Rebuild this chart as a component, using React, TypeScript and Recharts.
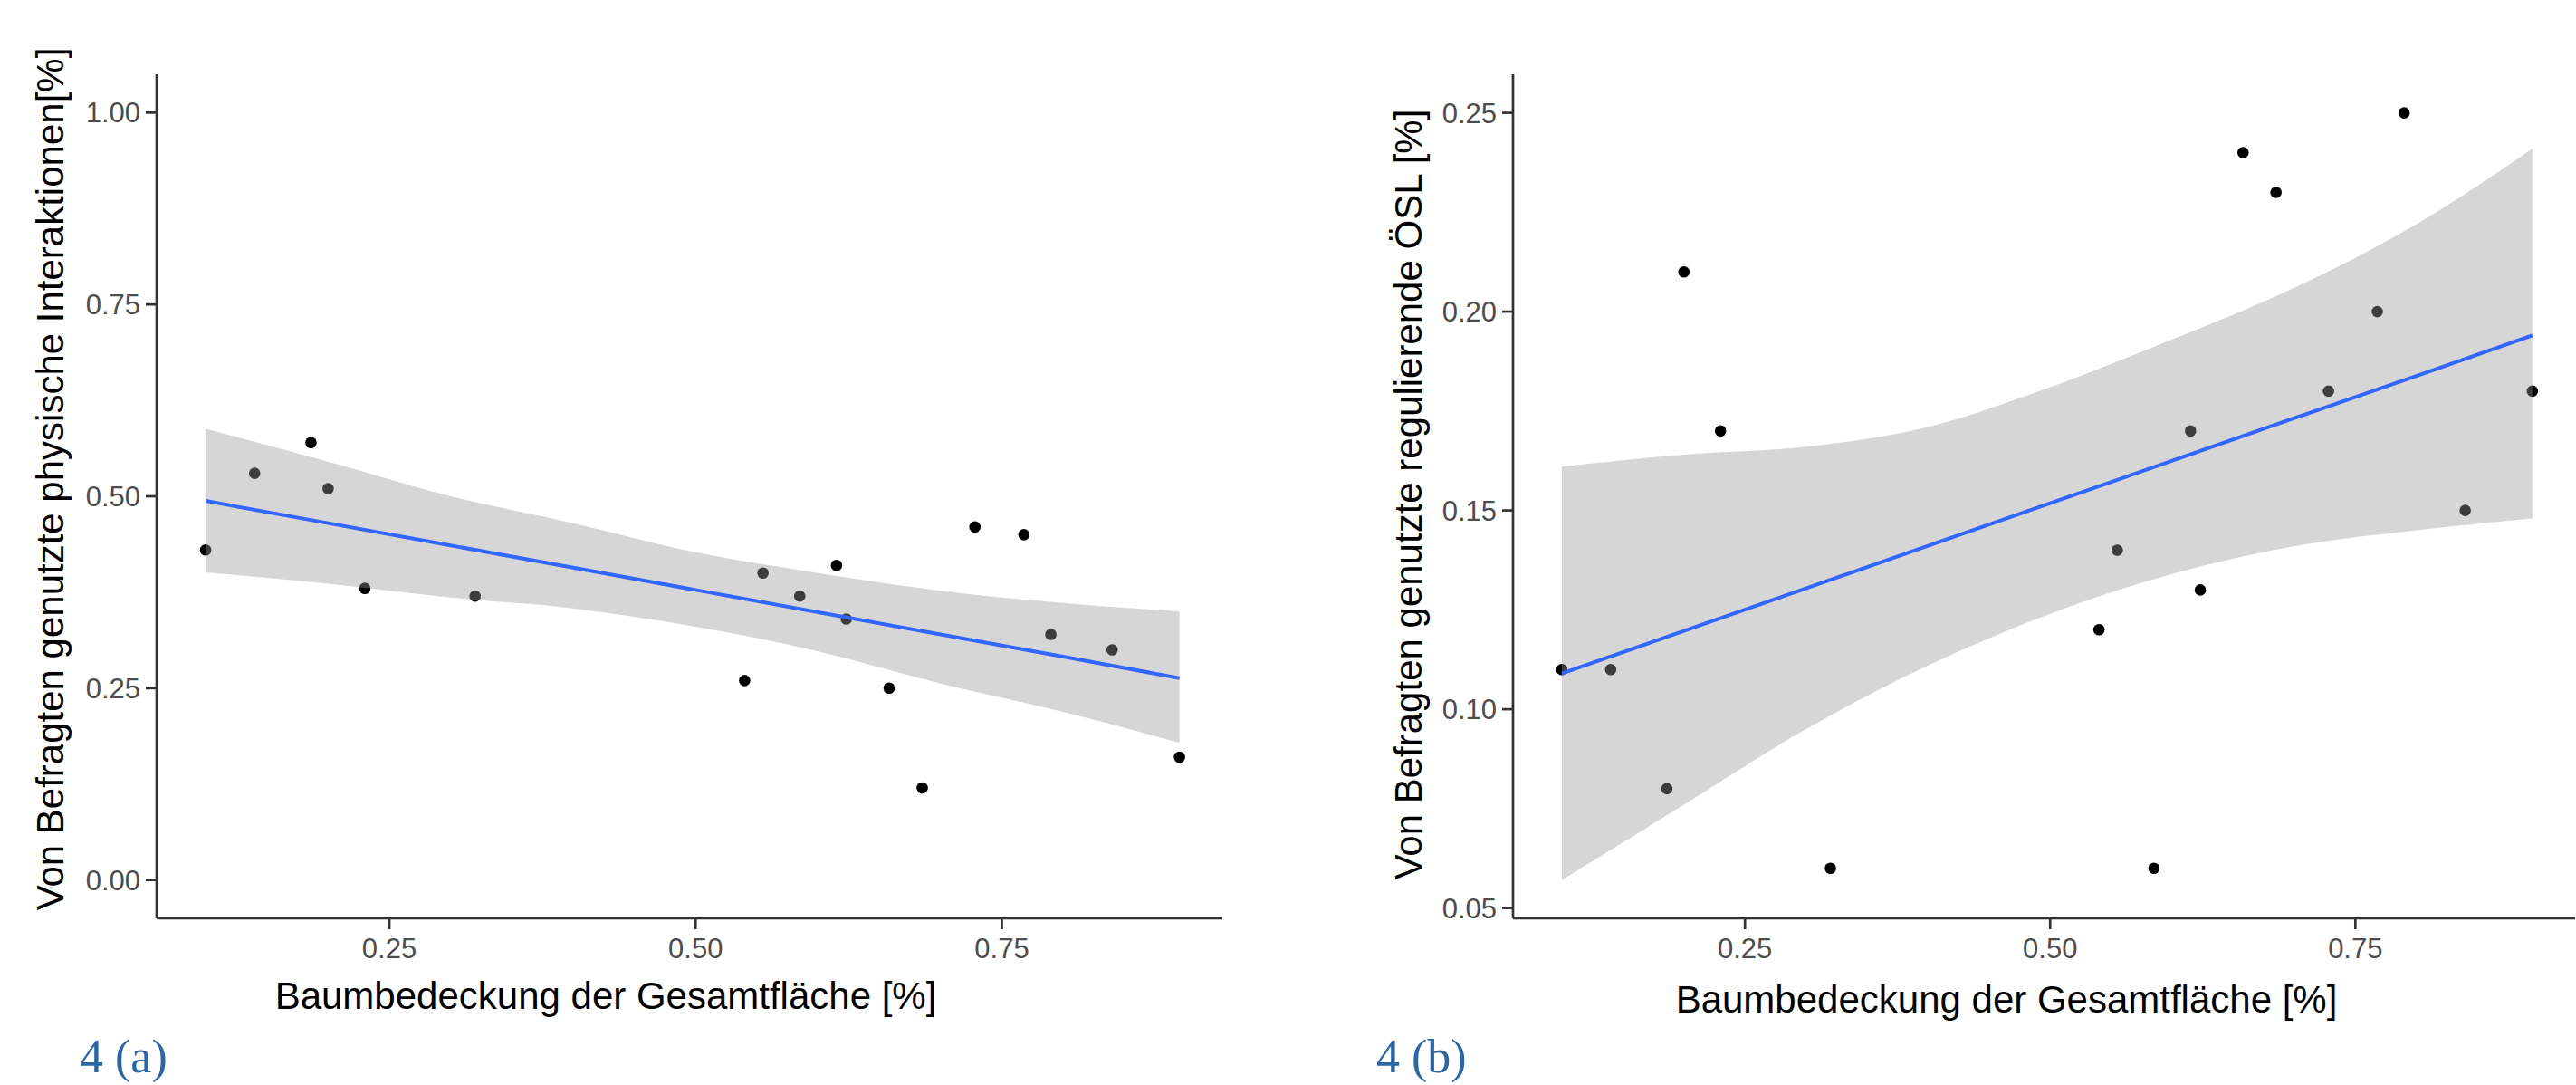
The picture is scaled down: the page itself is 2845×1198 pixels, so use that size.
import React from 'react';
import { ComposedChart, XAxis, YAxis, Scatter, Area, Line } from 'recharts';

// tree cover share per site (shared by both panels)
const coverX = [0.10, 0.14, 0.186, 0.20, 0.23, 0.32, 0.54, 0.555, 0.585, 0.615, 0.623, 0.658, 0.685, 0.728, 0.768, 0.79, 0.84, 0.895];
// panel (a): physical interactions used by respondents
const physUse = [0.43, 0.53, 0.57, 0.51, 0.38, 0.37, 0.26, 0.40, 0.37, 0.41, 0.34, 0.25, 0.12, 0.46, 0.45, 0.32, 0.30, 0.16];
// panel (b): regulating ecosystem services used by respondents
const regUse = [0.11, 0.11, 0.08, 0.21, 0.17, 0.06, 0.12, 0.14, 0.06, 0.17, 0.13, 0.24, 0.23, 0.18, 0.20, 0.25, 0.15, 0.18];

// lm smooth + confidence band
const smoothX = [0.10, 0.20, 0.30, 0.40, 0.50, 0.60, 0.70, 0.80, 0.895];
const physFit = [0.494, 0.465, 0.436, 0.407, 0.378, 0.349, 0.320, 0.291, 0.263];
const physLo = [0.401, 0.386, 0.368, 0.354, 0.330, 0.298, 0.256, 0.219, 0.179];
const physHi = [0.588, 0.545, 0.500, 0.465, 0.427, 0.400, 0.377, 0.361, 0.350];
const regFit = [0.109, 0.1197, 0.1304, 0.1411, 0.1518, 0.1625, 0.1732, 0.1838, 0.194];
const regLo = [0.057, 0.076, 0.095, 0.111, 0.124, 0.134, 0.141, 0.145, 0.148];
const regHi = [0.161, 0.164, 0.166, 0.171, 0.181, 0.193, 0.206, 0.222, 0.241];

const xTicks = [0.25, 0.5, 0.75];
const physTicks = [0, 0.25, 0.5, 0.75, 1.0];
const regTicks = [0.05, 0.10, 0.15, 0.20, 0.25];

const xTitle = 'Baumbedeckung der Gesamtfläche [%]';
const physTitle = 'Von Befragten genutzte physische Interaktionen[%]';
const regTitle = 'Von Befragten genutzte regulierende ÖSL [%]';

const SANS = '"Liberation Sans", Arial, sans-serif';
const axisStroke = { stroke: '#333333', strokeWidth: 2.7 };
const tickStyle = { fill: '#4d4d4d', fontSize: 31, fontFamily: SANS };

const Dot = (p: any) => <circle cx={p.cx} cy={p.cy} r={6.3} fill="#000" />;

function Panel({ ys, fit, lo, hi, yTicks, yDomain, width, yAxisWidth, rightMargin }: any) {
    const points = coverX.map((x, i) => ({ x, y: ys[i] }));
    const smooth = smoothX.map((x, i) => ({ x, band: [lo[i], hi[i]], fit: fit[i] }));
    return (
        <ComposedChart width={width} height={1100} data={smooth}
            margin={{ top: 82, right: rightMargin, left: 0, bottom: 0 }}>
            <XAxis type="number" dataKey="x" domain={[0.06, 0.93]} allowDataOverflow
                ticks={xTicks} tickFormatter={(v: number) => v.toFixed(2)}
                height={86} tickSize={12} tickMargin={10}
                axisLine={axisStroke} tickLine={axisStroke} tick={tickStyle} />
            <YAxis type="number" domain={yDomain} allowDataOverflow
                ticks={yTicks} tickFormatter={(v: number) => v.toFixed(2)}
                width={yAxisWidth} tickSize={12} tickMargin={6}
                axisLine={axisStroke} tickLine={axisStroke} tick={tickStyle} />
            {/* points sit under the translucent band, as in ggplot */}
            <Scatter data={points} dataKey="y" shape={Dot} zIndex={50} isAnimationActive={false} />
            <Area dataKey="band" type="monotone" stroke="none" fill="#999999" fillOpacity={0.4}
                zIndex={100} isAnimationActive={false} />
            <Line dataKey="fit" type="linear" stroke="#3366FF" strokeWidth={4} dot={false}
                activeDot={false} zIndex={400} isAnimationActive={false} />
        </ComposedChart>
    );
}

export default function App() {
    return (
        <div style={{ position: 'absolute', left: 0, top: 0, width: 2845, height: 1198, background: '#fff', overflow: 'hidden' }}>
            <div style={{ position: 'absolute', left: 0, top: 0 }}>
                <Panel ys={physUse} fit={physFit} lo={physLo} hi={physHi}
                    yTicks={physTicks} yDomain={[-0.05, 1.05]}
                    width={1400} yAxisWidth={173} rightMargin={50} />
            </div>
            <div style={{ position: 'absolute', left: 1400, top: 0 }}>
                <Panel ys={regUse} fit={regFit} lo={regLo} hi={regHi}
                    yTicks={regTicks} yDomain={[0.0474, 0.2597]}
                    width={1445} yAxisWidth={271} rightMargin={1} />
            </div>
            <svg width={2845} height={1198} style={{ position: 'absolute', left: 0, top: 0, pointerEvents: 'none' }}>
                <g fontFamily={SANS} fontSize={42} fill="#000">
                    <text x={669} y={1114} textAnchor="middle">{xTitle}</text>
                    <text x={2216} y={1118} textAnchor="middle">{xTitle}</text>
                    <text x={70} y={529} textAnchor="middle" transform="rotate(-90 70 529)">{physTitle}</text>
                    <text x={1570} y={546} textAnchor="middle" transform="rotate(-90 1570 546)">{regTitle}</text>
                </g>
                <g fontFamily='"Liberation Serif", "Times New Roman", serif' fontSize={52} fill="#2b66a3">
                    <text x={88} y={1184}>4 (a)</text>
                    <text x={1520} y={1184}>4 (b)</text>
                </g>
            </svg>
        </div>
    );
}
